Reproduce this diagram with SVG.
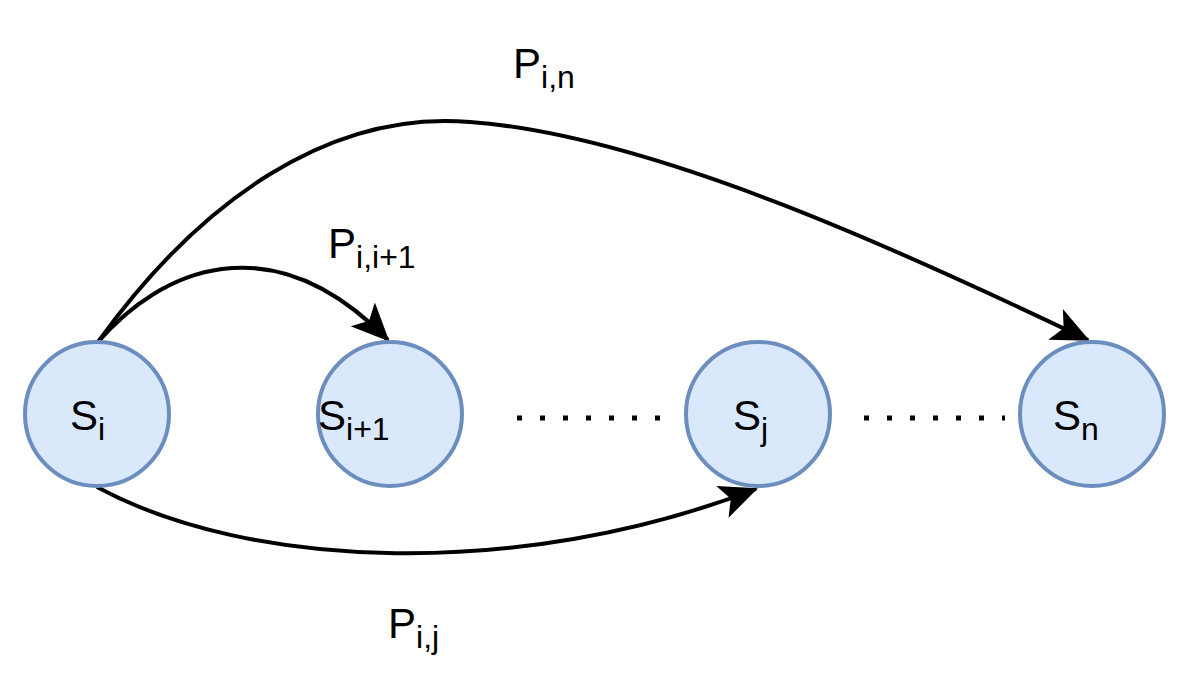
<svg xmlns="http://www.w3.org/2000/svg" width="1201" height="686" viewBox="0 0 1201 686">
<style>
.n{fill:#dae8fc;stroke:#6c8ebf;stroke-width:4}
.t{font-family:"Liberation Sans",Arial,sans-serif;font-size:42px;fill:#000}
.s{font-size:32px}
.e{fill:none;stroke:#000;stroke-width:4}
.d{stroke:#000;stroke-width:5;stroke-dasharray:5,18}
</style>
<defs><marker id="a" markerWidth="50" markerHeight="40" refX="0" refY="0" orient="auto" markerUnits="userSpaceOnUse" viewBox="-40 -20 50 40" style="overflow:visible"><path d="M-36,-17 L2,0 L-36,17 L-27,0 z" fill="#000"/></marker></defs>
<rect width="1201" height="686" fill="#fff"/>
<g id="edges">
<path class="e" d="M98,342 C200,200 330,110 470,122 C650,135 900,250 1088,340" marker-end="url(#a)"/>
<path class="e" d="M98,342 C160,270 270,220 388,340" marker-end="url(#a)"/>
<path class="e" d="M97,487 C250,570 520,580 756,489" marker-end="url(#a)"/>
<line class="d" x1="517" y1="418" x2="660" y2="418"/>
<line class="d" x1="864" y1="418" x2="1005" y2="418"/>
</g>
<g id="Si"><circle class="n" cx="97" cy="414" r="72"/><text class="t" x="70" y="430">S<tspan class="s" dy="10">i</tspan></text></g>
<g id="Si1"><circle class="n" cx="390" cy="414" r="72"/><text class="t" x="318" y="430">S<tspan class="s" dy="10">i+1</tspan></text></g>
<g id="Sj"><circle class="n" cx="758" cy="414" r="72"/><text class="t" x="733" y="430">S<tspan class="s" dy="10">j</tspan></text></g>
<g id="Sn"><circle class="n" cx="1092" cy="414" r="72"/><text class="t" x="1053" y="430">S<tspan class="s" dy="10">n</tspan></text></g>
<text class="t" x="513" y="78">P<tspan class="s" dy="10">i,n</tspan></text>
<text class="t" x="328" y="258">P<tspan class="s" dy="10">i,i+1</tspan></text>
<text class="t" x="388" y="638">P<tspan class="s" dy="10">i,j</tspan></text>
</svg>
